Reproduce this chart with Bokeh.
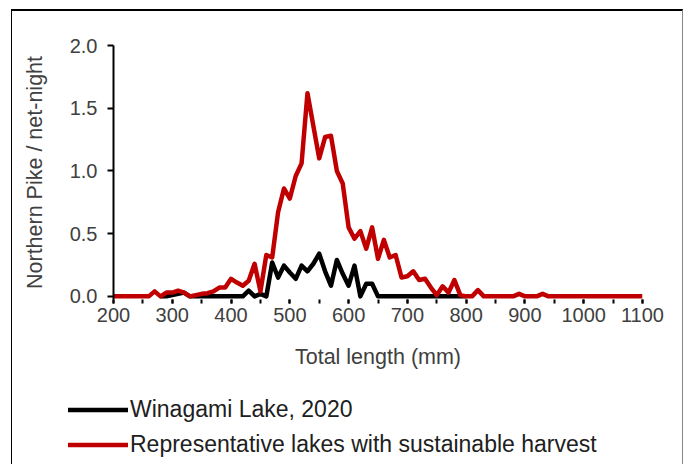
from bokeh.plotting import figure
from bokeh.layouts import column, row
from bokeh.models import Legend, LegendItem, SingleIntervalTicker, Range1d
from bokeh.embed import file_html
from bokeh.resources import INLINE

# Total length bins (mm)
length_mm = list(range(200, 1110, 10))

# Representative lakes with sustainable harvest (fish / net-night)
representative = [
    0, 0, 0, 0, 0, 0, 0, 0.04, 0, 0.03,          # 200-290
    0.03, 0.045, 0.03, 0, 0.01, 0.02, 0.025, 0.04, 0.07, 0.07,   # 300-390
    0.14, 0.11, 0.085, 0.125, 0.26, 0.04, 0.33, 0.31, 0.67, 0.86,  # 400-490
    0.78, 0.96, 1.06, 1.62, 1.36, 1.10, 1.27, 1.28, 1.00, 0.90,   # 500-590
    0.55, 0.46, 0.52, 0.38, 0.55, 0.30, 0.45, 0.31, 0.33, 0.15,   # 600-690
    0.16, 0.20, 0.13, 0.14, 0.07, 0.01, 0.08, 0.03, 0.13, 0.01,   # 700-790
    0, 0, 0.05, 0, 0, 0, 0, 0, 0, 0.02,                           # 800-890
    0, 0, 0, 0.02, 0, 0, 0, 0, 0, 0,                              # 900-990
    0, 0, 0, 0, 0, 0, 0, 0, 0, 0,                                 # 1000-1090
    0,                                                            # 1100
]

# Winagami Lake, 2020
winagami_len = list(range(280, 810, 10))
winagami = [
    0, 0,                                                          # 280-290
    0.01, 0.02, 0.03, 0, 0, 0, 0, 0, 0, 0,                         # 300-390
    0, 0, 0, 0.045, 0, 0.02, 0, 0.27, 0.15, 0.245,                 # 400-490
    0.19, 0.14, 0.245, 0.20, 0.26, 0.34, 0.20, 0.085, 0.29, 0.18,  # 500-590
    0.085, 0.245, 0, 0.10, 0.10, 0, 0, 0, 0, 0,                    # 600-690
    0, 0, 0, 0, 0, 0, 0, 0, 0, 0,                                  # 700-790
    0,                                                             # 800
]

series_labels = ["Winagami Lake, 2020", "Representative lakes with sustainable harvest"]
series_colors = ["#000000", "#C00000"]
x_ticks_interval = 100
y_ticks = [0, 0.5, 1.0, 1.5, 2.0]

FONT = "Liberation Sans"
GREY = "#404040"
LW = 4.5

p = figure(width=670, height=364, output_backend="svg", toolbar_location=None,
           x_range=Range1d(200, 1100), y_range=Range1d(-0.025, 2.0),
           min_border_left=101, min_border_right=40, min_border_top=34,
           min_border_bottom=76)
p.outline_line_color = None
p.xgrid.visible = False
p.ygrid.visible = False

r_black = p.line(winagami_len, winagami, line_color=series_colors[0], line_width=LW, line_join="round")
r_red = p.line(length_mm, representative, line_color=series_colors[1], line_width=LW, line_join="round")

xa = p.xaxis[0]
xa.ticker = SingleIntervalTicker(interval=x_ticks_interval, num_minor_ticks=2)
xa.axis_line_color = None
xa.major_tick_line_color = "black"
xa.minor_tick_line_color = "black"
xa.major_tick_line_width = 2
xa.minor_tick_line_width = 2
xa.major_tick_in = 0
xa.major_tick_out = 4
xa.minor_tick_in = 0
xa.minor_tick_out = 4
xa.major_label_text_font = FONT
xa.major_label_text_font_size = "20px"
xa.major_label_text_color = GREY
xa.major_label_standoff = 4
xa.axis_label = "Total length (mm)"
xa.axis_label_text_font = FONT
xa.axis_label_text_font_size = "21.5px"
xa.axis_label_text_font_style = "normal"
xa.axis_label_text_color = GREY
xa.axis_label_standoff = 20

ya = p.yaxis[0]
ya.ticker = y_ticks
ya.axis_line_color = "black"
ya.axis_line_width = 2
ya.major_tick_line_color = "black"
ya.major_tick_line_width = 2
ya.major_tick_in = 0
ya.major_tick_out = 6
ya.minor_tick_line_color = None
ya.major_label_text_font = FONT
ya.major_label_text_font_size = "20px"
ya.major_label_text_color = GREY
ya.major_label_standoff = 10
ya.major_label_overrides = {0: "0.0", 0.5: "0.5", 1.0: "1.0", 1.5: "1.5", 2.0: "2.0"}
ya.axis_label = "Northern Pike / net-night"
ya.axis_label_text_font = FONT
ya.axis_label_text_font_size = "21.5px"
ya.axis_label_text_font_style = "normal"
ya.axis_label_text_color = GREY
ya.axis_label_standoff = 20

# Legend panel below the chart (separate, unaligned figure)
q = figure(width=670, height=89, output_backend="svg", toolbar_location=None,
           x_range=Range1d(0, 1), y_range=Range1d(0, 1),
           x_axis_type=None, y_axis_type=None,
           min_border_left=0, min_border_right=0, min_border_top=0, min_border_bottom=0)
q.outline_line_color = None
q.xgrid.visible = False
q.ygrid.visible = False
lg_black = q.line([-5, -4], [-5, -4], line_color=series_colors[0], line_width=LW, line_cap="round")
lg_red = q.line([-5, -4], [-5, -4], line_color=series_colors[1], line_width=LW, line_cap="round")

legend = Legend(items=[LegendItem(label=series_labels[0], renderers=[lg_black]),
                       LegendItem(label=series_labels[1], renderers=[lg_red])],
                location=(56, 6), orientation="vertical",
                glyph_width=60, glyph_height=25, label_height=25, label_standoff=2, spacing=8,
                padding=0, margin=0, border_line_color=None, background_fill_alpha=0,
                label_text_font=FONT, label_text_font_size="23px", label_text_color="#202020")
q.add_layout(legend, "center")

layout = column(p, row(q), spacing=0,
                styles={"border-top": "2px solid #000", "border-left": "1px solid #000",
                        "border-right": "1px solid #888", "margin-left": "11px", "margin-top": "9px"})

open("out.html", "w").write(file_html(layout, INLINE))
